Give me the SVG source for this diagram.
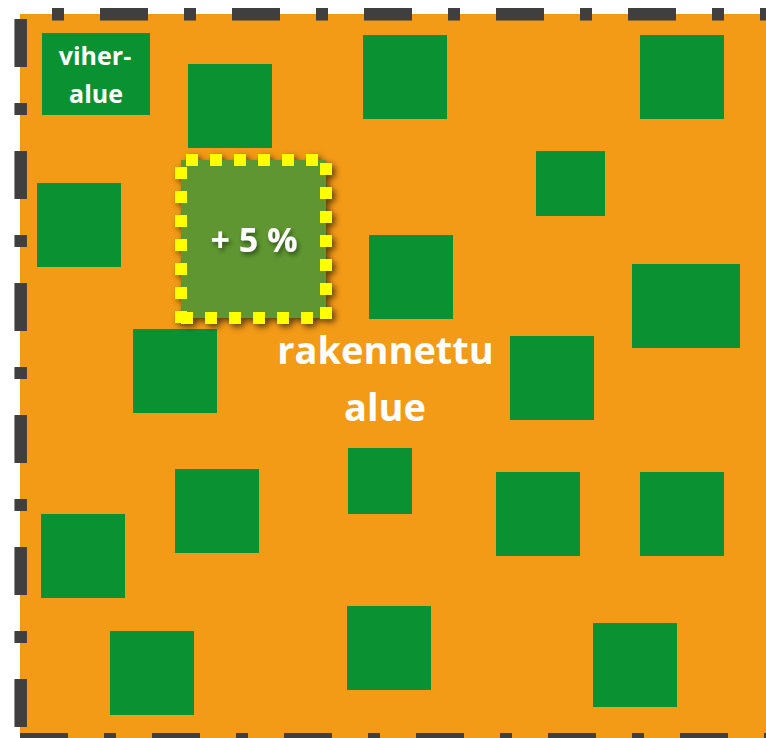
<svg xmlns="http://www.w3.org/2000/svg" width="766" height="738" viewBox="0 0 766 738">
<defs>
<style>
.g{fill:#0a9232}
.bd{stroke:#3f3f3f;stroke-width:12.5;fill:none;stroke-dasharray:48 36 12 36}
.yd{stroke:#ffff00;stroke-width:12;fill:none;stroke-dasharray:12 12}
.t{font-family:"Open Sans","Noto Sans",sans-serif;font-weight:bold;fill:#ffffff;text-anchor:middle}
</style>
<filter id="sh" x="-20%" y="-20%" width="150%" height="150%">
<feDropShadow dx="3" dy="3" stdDeviation="3" flood-color="#000" flood-opacity="0.6"/>
</filter>
<filter id="tsh" x="-20%" y="-40%" width="150%" height="190%">
<feDropShadow dx="2" dy="3" stdDeviation="2" flood-color="#1a3a10" flood-opacity="0.7"/>
</filter>
</defs>
<rect x="0" y="0" width="766" height="738" fill="#ffffff"/>
<rect id="area" x="20" y="14" width="746" height="724" fill="#f39a16"/>
<g id="border">
<line class="bd" x1="52" y1="14.3" x2="780" y2="14.3" style="stroke-dasharray:12 36 48 36"/>
<line class="bd" x1="20.7" y1="19" x2="20.7" y2="745"/>
<line class="bd" x1="20" y1="739.3" x2="780" y2="739.3"/>
</g>
<g id="viheralue">
<rect class="g" x="42" y="33" width="108" height="82"/>
<text class="t" x="95" y="65" font-size="25">viher-</text>
<text class="t" x="96" y="103" font-size="25">alue</text>
</g>
<g id="greens">
<rect class="g" x="188" y="64" width="84" height="84"/>
<rect class="g" x="363" y="35" width="84" height="84"/>
<rect class="g" x="640" y="35" width="84" height="84"/>
<rect class="g" x="536" y="151" width="69" height="65"/>
<rect class="g" x="37" y="183" width="84" height="84"/>
<rect class="g" x="369" y="235" width="84" height="84"/>
<rect class="g" x="632" y="264" width="108" height="84"/>
<rect class="g" x="133" y="329" width="84" height="84"/>
<rect class="g" x="510" y="336" width="84" height="84"/>
<rect class="g" x="175" y="469" width="84" height="84"/>
<rect class="g" x="348" y="448" width="64" height="66"/>
<rect class="g" x="496" y="472" width="84" height="84"/>
<rect class="g" x="640" y="472" width="84" height="84"/>
<rect class="g" x="41" y="514" width="84" height="84"/>
<rect class="g" x="110" y="631" width="84" height="84"/>
<rect class="g" x="347" y="606" width="84" height="84"/>
<rect class="g" x="593" y="623" width="84" height="84"/>
</g>
<g id="plus5">
<g filter="url(#sh)">
<rect x="181" y="160" width="145" height="158" fill="#619631"/>
<line class="yd" x1="186" y1="160" x2="320" y2="160"/>
<line class="yd" x1="326" y1="163" x2="326" y2="323"/>
<line class="yd" x1="181" y1="318" x2="314" y2="318"/>
<line class="yd" x1="181" y1="167" x2="181" y2="323"/>
</g>
<text class="t" x="254" y="252" font-size="34" filter="url(#tsh)">+ 5 %</text>
</g>
<g id="rakennettu">
<text class="t" x="385.5" y="364" font-size="38">rakennettu</text>
<text class="t" x="385" y="421" font-size="38">alue</text>
</g>
</svg>
